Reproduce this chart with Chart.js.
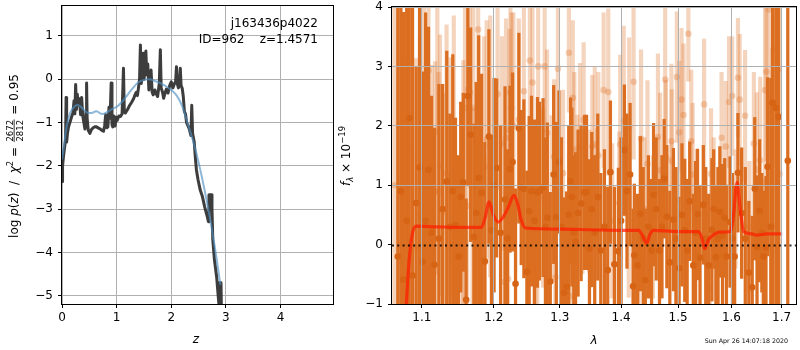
<!DOCTYPE html>
<html>
<head>
<meta charset="utf-8">
<script src="https://cdn.jsdelivr.net/npm/chart.js@4.4.0/dist/chart.umd.min.js"></script>
<style>
    body { margin: 0; background: #fff; width: 800px; height: 350px; overflow: hidden; position: relative; }
    canvas { position: absolute; top: 0; }
    #pz { left: 0; }
    #sp { left: 336px; }
</style>
</head>
<body>
<canvas id="pz" width="340" height="350"></canvas>
<canvas id="sp" width="464" height="350"></canvas>
<script>
// ---- left panel: log p(z) ----
const zTicks = [0, 1, 2, 3, 4];
const pzTicks = [-5, -4, -3, -2, -1, 0, 1];

const zDark = [0.000, 0.010, 0.030, 0.050, 0.065, 0.075, 0.085, 0.100, 0.120, 0.150,
    0.180, 0.200, 0.220, 0.235, 0.250, 0.265, 0.280, 0.300, 0.320, 0.340,
    0.360, 0.380, 0.400, 0.420, 0.440, 0.450, 0.460, 0.480, 0.510, 0.540,
    0.570, 0.600, 0.630, 0.670, 0.700, 0.730, 0.760, 0.780, 0.800, 0.820,
    0.840, 0.860, 0.880, 0.900, 0.915, 0.930, 0.950, 0.970, 0.990, 1.010,
    1.040, 1.070, 1.100, 1.125, 1.140, 1.160, 1.200, 1.240, 1.280, 1.310,
    1.340, 1.360, 1.380, 1.400, 1.420, 1.435, 1.450, 1.470, 1.485, 1.500,
    1.520, 1.535, 1.550, 1.570, 1.590, 1.610, 1.630, 1.650, 1.670, 1.700,
    1.730, 1.750, 1.780, 1.800, 1.815, 1.840, 1.860, 1.890, 1.910, 1.940,
    1.970, 2.000, 2.030, 2.060, 2.080, 2.095, 2.110, 2.130, 2.150, 2.165,
    2.180, 2.200, 2.220, 2.240, 2.260, 2.280, 2.300, 2.330, 2.360, 2.375,
    2.390, 2.420, 2.440, 2.460, 2.490, 2.530, 2.570, 2.610, 2.650, 2.680,
    2.690, 2.730, 2.745, 2.760, 2.790, 2.830, 2.850, 2.870, 2.880, 2.910,
    2.920];
const pzDark = [-2.36, -2.00, -1.75, -1.55, -1.40, -0.42, -1.45, -1.25, -1.10, -0.98,
    -0.85, -0.78, -0.50, -0.80, -0.12, -0.70, -0.35, -0.60, -0.45, -0.82,
    -0.42, -0.85, -1.00, -1.15, -0.75, -0.09, -0.90, -1.18, -1.25, -1.16,
    -1.12, -1.10, -1.10, -1.13, -1.15, -1.18, -1.20, -1.08, -0.82, -1.12,
    -1.10, -0.65, -0.90, -0.09, -1.05, -1.10, -0.85, -1.08, -0.88, -0.95,
    -0.85, -0.86, -0.80, 0.25, -0.75, -0.78, -0.70, -0.60, -0.52, -0.45,
    -0.35, -0.30, -0.38, -0.20, 0.02, 0.79, -0.10, 0.06, 0.60, 0.00,
    0.20, 0.65, 0.10, 0.35, -0.25, 0.00, 0.21, -0.30, -0.36, -0.25,
    -0.35, -0.40, -0.10, 0.68, -0.20, -0.30, -0.44, -0.30, -0.23, -0.32,
    -0.15, -0.06, -0.20, -0.10, -0.05, 0.29, -0.10, -0.20, -0.10, 0.25,
    -0.15, -0.21, -0.40, -0.75, -0.80, -1.00, -1.06, -1.15, -1.30, -0.60,
    -1.25, -1.45, -1.80, -2.09, -2.32, -2.56, -2.71, -2.94, -3.13, -3.29,
    -2.67, -2.67, -3.00, -3.71, -4.17, -4.56, -4.87, -5.17, -4.70, -4.70,
    -5.50];

const zFit = [0.00, 0.03, 0.06, 0.10, 0.15, 0.22, 0.30, 0.38, 0.46, 0.54,
    0.63, 0.72, 0.80, 0.90, 1.00, 1.10, 1.20, 1.30, 1.40, 1.50,
    1.60, 1.70, 1.80, 1.90, 2.00, 2.10, 2.20, 2.30, 2.40, 2.50,
    2.60, 2.70, 2.80, 2.90];
const pzFit = [-1.85, -1.60, -1.30, -1.00, -0.78, -0.64, -0.60, -0.68, -0.77, -0.78,
    -0.74, -0.80, -0.78, -0.70, -0.64, -0.52, -0.36, -0.20, -0.07, -0.02,
    0.00, -0.04, -0.09, -0.16, -0.25, -0.38, -0.62, -1.02, -1.43, -1.92,
    -2.50, -3.15, -3.90, -4.75];

// ---- right panel: spectrum ----
const lamTicks = [1.1, 1.2, 1.3, 1.4, 1.5, 1.6, 1.7];
const fluxTicks = [-1, 0, 1, 2, 3, 4];

const darkWave = [1.0685, 1.0725, 1.0757, 1.0800, 1.0834, 1.0877, 1.0925, 1.0970, 1.1013, 1.1050,
    1.1089, 1.1130, 1.1169, 1.1230, 1.1280, 1.1337, 1.1380, 1.1420, 1.1457, 1.1500,
    1.1530, 1.1566, 1.1606, 1.1630, 1.1670, 1.1715, 1.1748, 1.1784, 1.1825, 1.1871,
    1.1930, 1.1967, 1.2005, 1.2042, 1.2100, 1.2165, 1.2200, 1.2239, 1.2277, 1.2321,
    1.2371, 1.2406, 1.2446, 1.2491, 1.2526, 1.2561, 1.2605, 1.2652, 1.2682, 1.2738,
    1.2775, 1.2804, 1.2850, 1.2903, 1.2944, 1.2986, 1.3025, 1.3064, 1.3107, 1.3140,
    1.3170, 1.3190, 1.3220, 1.3249, 1.3290, 1.3339, 1.3393, 1.3426, 1.3474, 1.3512,
    1.3560, 1.3610, 1.3660, 1.3720, 1.3775, 1.3820, 1.3887, 1.3954, 1.4000, 1.4056,
    1.4100, 1.4153, 1.4204, 1.4226, 1.4283, 1.4330, 1.4380, 1.4416, 1.4470, 1.4526,
    1.4561, 1.4608, 1.4666, 1.4710, 1.4749, 1.4797, 1.4850, 1.4915, 1.4960, 1.5018,
    1.5070, 1.5121, 1.5165, 1.5212, 1.5278, 1.5320, 1.5355, 1.5403, 1.5464, 1.5510,
    1.5565, 1.5626, 1.5660, 1.5701, 1.5740, 1.5777, 1.5828, 1.5870, 1.5904, 1.5972,
    1.6020, 1.6062, 1.6126, 1.6198, 1.6270, 1.6340, 1.6407, 1.6458, 1.6503, 1.6555,
    1.6600, 1.6635, 1.6683, 1.6715, 1.6780, 1.6816, 1.6884, 1.6937, 1.7129];
const darkFlux = [-0.20, 0.90, -0.59, 0.40, 2.13, -0.52, 0.70, 1.30, -0.29, 0.40,
    1.26, 0.20, -0.34, 0.10, 0.60, 1.06, 0.30, 0.90, 0.33, -0.20,
    0.80, 1.05, -0.93, 2.50, 1.85, 0.13, 0.53, 1.12, 0.87, -0.28,
    1.82, 0.24, 1.00, 1.29, 0.20, 0.76, 0.10, 1.27, 1.39, -0.66,
    1.96, 0.96, 0.94, -0.46, 0.56, 0.90, 0.40, 0.88, 0.90, 0.96,
    0.30, 0.45, -0.62, 1.18, 0.46, 1.39, 0.30, -0.81, -0.71, 0.50,
    1.07, 0.80, 0.20, 0.05, 0.53, 0.69, 0.88, 0.88, -0.07, 0.59,
    0.20, 0.80, -0.10, 0.30, -0.43, 1.22, -0.33, -0.11, 0.40, 1.59,
    0.90, 1.18, -0.70, -0.18, -0.35, 0.52, 0.10, -0.60, 0.30, -0.10,
    0.84, 0.60, -0.10, 0.30, 1.11, 0.47, -0.30, 0.42, 0.10, -0.40,
    0.50, 0.24, -0.10, 0.73, -0.35, 0.20, 0.51, -0.22, 0.67, 0.10,
    -0.35, 0.25, 0.60, -0.21, 0.10, 0.55, 0.15, 0.45, -0.20, 0.38,
    0.10, -0.20, 1.21, 0.53, 0.10, -0.47, -0.72, 0.94, -0.04, 0.57,
    0.20, -0.20, -0.05, 1.31, 0.30, 2.39, 2.30, 2.15, 1.41];
const darkErr = [5.0, 4.5, 4.5, 4.2, 4.0, 4.5, 2.3, 2.7, 3.2, 3.5,
    2.4, 2.3, 2.3, 2.6, 2.1, 2.2, 1.9, 2.3, 1.8, 1.7,
    1.6, 1.5, 1.7, 1.5, 1.8, 1.9, 2.2, 2.4, 2.0, 2.0,
    1.8, 1.6, 1.8, 1.5, 1.8, 1.9, 1.5, 1.4, 1.5, 1.6,
    1.6, 1.3, 1.5, 1.7, 1.6, 1.6, 1.7, 1.6, 1.5, 1.5,
    1.5, 1.6, 1.5, 1.5, 1.6, 1.2, 1.5, 1.6, 1.6, 1.5,
    1.4, 1.5, 1.3, 1.5, 1.4, 1.3, 1.3, 1.3, 1.5, 1.3,
    1.3, 1.4, 1.3, 1.3, 1.4, 1.2, 1.3, 1.4, 1.4, 1.1,
    1.3, 1.2, 1.3, 1.2, 1.2, 1.3, 1.2, 1.2, 1.2, 1.2,
    1.2, 1.2, 1.2, 1.2, 1.0, 1.2, 1.2, 1.2, 1.2, 1.2,
    1.2, 1.2, 1.2, 1.0, 1.2, 1.2, 1.1, 1.2, 1.0, 1.2,
    1.2, 1.2, 1.0, 1.2, 1.2, 1.1, 1.2, 1.0, 1.2, 1.1,
    1.1, 1.2, 1.0, 1.1, 1.2, 1.2, 1.2, 1.2, 1.2, 1.2,
    1.0, 1.1, 1.2, 1.5, 2.5, 3.5, 4.0, 4.5, 5.0];

const lightWave = [1.0640, 1.0700, 1.0766, 1.0848, 1.0920, 1.0975, 1.1029, 1.1044, 1.1060, 1.1080,
    1.1089, 1.1132, 1.1178, 1.1208, 1.1225, 1.1244, 1.1295, 1.1334, 1.1389, 1.1434,
    1.1490, 1.1558, 1.1567, 1.1590, 1.1620, 1.1658, 1.1696, 1.1707, 1.1776, 1.1860,
    1.1870, 1.1898, 1.1950, 1.2056, 1.2120, 1.2160, 1.2180, 1.2210, 1.2230, 1.2245,
    1.2260, 1.2290, 1.2370, 1.2446, 1.2536, 1.2576, 1.2620, 1.2650, 1.2663, 1.2740,
    1.2763, 1.2800, 1.2870, 1.2910, 1.2930, 1.2970, 1.3050, 1.3143, 1.3160, 1.3206,
    1.3230, 1.3280, 1.3320, 1.3360, 1.3380, 1.3470, 1.3520, 1.3560, 1.3600, 1.3620,
    1.3707, 1.3784, 1.3850, 1.3970, 1.3984, 1.4045, 1.4130, 1.4137, 1.4213, 1.4300,
    1.4342, 1.4400, 1.4454, 1.4550, 1.4638, 1.4677, 1.4767, 1.4780, 1.4878, 1.4885,
    1.4977, 1.5020, 1.5062, 1.5099, 1.5187, 1.5240, 1.5266, 1.5350, 1.5479, 1.5590,
    1.5610, 1.5660, 1.5740, 1.5810, 1.5890, 1.5954, 1.6014, 1.6080, 1.6126, 1.6161,
    1.6266, 1.6350, 1.6440, 1.6500, 1.6566, 1.6620, 1.6665, 1.6690, 1.6739, 1.6810,
    1.6868, 1.6925, 1.6960];
const lightFlux = [1.00, 2.00, -0.35, 1.60, -0.07, 0.50, 2.16, -0.70, 0.85, 0.70,
    2.93, 0.62, 0.88, 1.90, 0.90, 1.33, 0.55, 1.20, 1.15, 1.45,
    -0.30, 0.13, 0.70, 2.30, 0.65, 2.56, 0.30, 2.30, 3.62, 1.30,
    -0.30, 1.77, 1.65, 2.53, 1.70, -0.63, 1.80, -0.58, 1.93, 2.56,
    2.30, 2.00, 2.10, 2.58, 3.10, 2.73, -0.20, -0.47, 3.00, 0.78,
    3.00, 1.88, 0.77, 1.48, -0.55, 2.96, 1.20, 3.23, -0.87, 2.47,
    1.60, 0.88, 1.65, 0.71, 2.10, 0.73, 1.65, 1.69, 0.75, 1.50,
    2.60, 2.57, 0.40, 0.70, 1.69, 2.08, 0.41, 1.98, 2.74, -0.68,
    1.78, 0.60, 1.36, 0.30, 1.81, 1.25, 2.78, 1.47, 1.74, 1.41,
    2.82, 1.89, 2.44, 2.18, 3.55, 1.74, 1.18, 0.50, 2.36, -0.73,
    1.19, 0.80, -0.10, 1.80, 1.65, 2.40, 2.50, 0.60, 2.81, 2.44,
    2.17, 0.30, 1.70, 1.26, 1.42, -0.20, 2.60, 2.91, 3.96, 0.31,
    3.30, 2.94, 1.19];
const lightErr = [4.5, 4.0, 3.5, 3.0, 3.2, 3.0, 2.2, 2.4, 2.6, 2.5,
    1.8, 2.4, 2.2, 2.4, 2.0, 2.2, 2.0, 2.5, 2.0, 2.4,
    1.8, 1.8, 2.4, 1.8, 2.0, 1.6, 2.0, 1.7, 1.5, 2.2,
    1.8, 2.0, 2.2, 1.6, 1.8, 1.6, 2.0, 1.8, 1.7, 1.5,
    1.6, 1.9, 1.7, 1.5, 1.2, 1.3, 1.4, 1.5, 1.2, 1.5,
    1.1, 1.4, 1.4, 1.3, 1.3, 1.1, 1.4, 1.0, 1.2, 1.3,
    1.3, 1.3, 1.4, 1.2, 1.3, 1.2, 1.2, 1.3, 1.2, 1.4,
    1.3, 1.4, 1.3, 1.2, 1.5, 1.6, 1.3, 1.5, 1.3, 1.2,
    1.5, 1.2, 1.4, 1.2, 1.4, 1.3, 1.2, 1.3, 1.3, 1.2,
    1.1, 1.2, 1.2, 1.2, 0.8, 1.2, 1.2, 1.1, 1.1, 1.0,
    1.1, 1.0, 1.0, 1.1, 1.1, 1.1, 1.0, 1.0, 1.0, 1.1,
    1.1, 1.1, 1.2, 1.3, 1.4, 1.3, 1.6, 1.5, 2.5, 3.0,
    2.0, 2.5, 3.5];

const modelWave = [1.0791, 1.0830, 1.0870, 1.0921, 1.1200, 1.1500, 1.1822, 1.1875, 1.1932, 1.1995,
    1.2065, 1.2130, 1.2210, 1.2298, 1.2350, 1.2410, 1.2472, 1.3000, 1.3500, 1.4000,
    1.4296, 1.4370, 1.4439, 1.4500, 1.4556, 1.5000, 1.5380, 1.5440, 1.5489, 1.5560,
    1.5650, 1.5774, 1.5979, 1.6040, 1.6110, 1.6170, 1.6240, 1.6400, 1.6500, 1.6700,
    1.7013];
const modelFlux = [-1.10, -0.30, 0.15, 0.31, 0.30, 0.29, 0.29, 0.45, 0.72, 0.50,
    0.38, 0.45, 0.62, 0.83, 0.70, 0.40, 0.28, 0.26, 0.25, 0.24,
    0.24, 0.15, 0.02, 0.18, 0.24, 0.22, 0.22, 0.10, -0.07, 0.08,
    0.16, 0.21, 0.22, 0.50, 1.05, 0.60, 0.22, 0.18, 0.16, 0.18,
    0.18];

const lamMin = 1.061, lamMax = 1.730;

Chart.defaults.font.family = '"DejaVu Sans"';
Chart.defaults.font.size = 12;
Chart.defaults.color = '#000';

const FN = '12px "DejaVu Sans"';
const FI = 'italic 12px "DejaVu Sans"';
const FS = '8.5px "DejaVu Sans"';
const FSI = 'italic 8.5px "DejaVu Sans"';

const minus = v => String(v).replace('-', '\u2212');

function fixedScale(size, horizontal) {
    return scale => {
        if (horizontal) scale.height = size; else scale.width = size;
        scale.paddingLeft = 0; scale.paddingRight = 0;
        scale.paddingTop = 0; scale.paddingBottom = 0;
    };
}

function axisStyle(extra) {
    return Object.assign({
        grid: { color: '#b0b0b0', lineWidth: 1, tickColor: '#000', tickLength: 4 },
        border: { display: false },
        ticks: { color: '#000', font: { size: 12 } }
    }, extra);
}

// draws text pieces one after another, centred on x
function drawParts(ctx, parts, x, y) {
    let w = 0;
    parts.forEach(p => { ctx.font = p[1]; w += p[3] || ctx.measureText(p[0]).width; });
    let cx = x - w / 2;
    parts.forEach(p => {
        ctx.font = p[1];
        if (p[0] === 'FRAC') {
            const nw = p[3];
            ctx.font = FS;
            const a = ctx.measureText('2672').width, b = ctx.measureText('2812').width;
            ctx.fillText('2672', cx + (nw - a) / 2, y - 5.5);
            ctx.fillText('2812', cx + (nw - b) / 2, y + 5);
            ctx.fillRect(cx + 1, y - 4.3, nw - 2, 0.8);
        } else {
            ctx.fillText(p[0], cx, y + (p[2] || 0));
        }
        cx += p[3] || ctx.measureText(p[0]).width;
    });
}

const framePlugin = {
    id: 'frame',
    afterDraw(chart) {
        const a = chart.chartArea, ctx = chart.ctx;
        ctx.save();
        ctx.strokeStyle = '#000';
        ctx.lineWidth = 1;
        ctx.strokeRect(Math.round(a.left) - 0.5, Math.round(a.top) - 0.5,
            Math.round(a.right - a.left) + 1, Math.round(a.bottom - a.top) + 1);
        ctx.restore();
    }
};

const pzText = {
    id: 'pzText',
    afterDraw(chart) {
        const ctx = chart.ctx;
        ctx.save();
        ctx.fillStyle = '#000';
        ctx.textBaseline = 'alphabetic';
        ctx.font = FN;
        ctx.textAlign = 'right';
        ctx.fillText('j163436p4022', 318, 27);
        ctx.fillText('ID=962    z=1.4571', 318, 43);
        ctx.textAlign = 'left';
        ctx.font = FI;
        ctx.fillText('z', 196 - ctx.measureText('z').width / 2, 343);
        ctx.translate(18, 156);
        ctx.rotate(-Math.PI / 2);
        ctx.font = FS;
        const fw = ctx.measureText('2812').width + 3;
        drawParts(ctx, [
            ['log ', FN], ['p', FI], ['(', FN], ['z', FI], [')  /  ', FN],
            ['\u03c7', FI], ['2', FS, -5], [' = ', FN], ['FRAC', FS, 0, fw], [' = 0.95', FN]
        ], 0, 0);
        ctx.restore();
    }
};

// zero line is drawn after the grid so the grid does not cover it
const zeroLine = {
    id: 'zeroLine',
    afterDraw(chart) {
        const ctx = chart.ctx, xs = chart.scales.x, ys = chart.scales.y;
        const y0 = Math.round(ys.getPixelForValue(0)) + 0.5;
        ctx.save();
        ctx.strokeStyle = 'rgba(0,0,0,0.85)';
        ctx.lineWidth = 2;
        ctx.setLineDash([2, 3.3]);
        ctx.beginPath();
        ctx.moveTo(xs.getPixelForValue(lamMin), y0);
        ctx.lineTo(xs.getPixelForValue(lamMax), y0);
        ctx.stroke();
        ctx.restore();
    }
};

const spText = {
    id: 'spText',
    afterDraw(chart) {
        const ctx = chart.ctx;
        ctx.save();
        ctx.fillStyle = '#000';
        ctx.textAlign = 'left';
        ctx.font = FI;
        ctx.fillText('\u03bb', 258 - ctx.measureText('\u03bb').width / 2, 344);
        ctx.font = '6.3px "DejaVu Sans"';
        ctx.textAlign = 'right';
        ctx.fillText('Sun Apr 26 14:07:18 2020', 452, 343);
        ctx.textAlign = 'left';
        ctx.translate(14, 156);
        ctx.rotate(-Math.PI / 2);
        drawParts(ctx, [
            ['f', FI], ['\u03bb', FSI, 3], [' \u00d7 10', FN], ['\u221219', FS, -5]
        ], 0, 0);
        ctx.restore();
    }
};

new Chart(document.getElementById('pz'), {
    type: 'scatter',
    data: {
        datasets: [
            {
                data: zDark.map((z, i) => ({ x: z, y: pzDark[i] })),
                showLine: true, borderColor: 'rgba(45,45,45,0.92)', borderWidth: 3,
                borderJoinStyle: 'round', pointRadius: 0, order: 2, clip: 0
            },
            {
                data: zFit.map((z, i) => ({ x: z, y: pzFit[i] })),
                showLine: true, borderColor: 'rgba(80,145,195,0.65)', borderWidth: 2,
                tension: 0.4, pointRadius: 0, order: 1, clip: 0
            }
        ]
    },
    options: {
        responsive: false,
        animation: false,
        devicePixelRatio: 1,
        layout: { padding: { left: 0, right: 7, top: 6, bottom: 0 } },
        plugins: { legend: { display: false }, tooltip: { enabled: false } },
        scales: {
            x: axisStyle({
                type: 'linear', min: 0, max: 4.96,
                afterBuildTicks: s => { s.ticks = zTicks.map(v => ({ value: v })); },
                afterFit: fixedScale(46, true),
                ticks: { color: '#000', padding: 3, maxRotation: 0, callback: v => minus(v) }
            }),
            y: axisStyle({
                type: 'linear', min: -5.19, max: 1.69,
                afterBuildTicks: s => { s.ticks = pzTicks.map(v => ({ value: v })); },
                afterFit: fixedScale(62, false),
                ticks: { color: '#000', padding: 5, callback: v => minus(v) }
            })
        }
    },
    plugins: [framePlugin, pzText]
});

const darkBars = darkWave.map((w, i) => ({ x: w, y: [darkFlux[i] - darkErr[i], darkFlux[i] + darkErr[i]] }));
const lightBars = lightWave.map((w, i) => ({ x: w, y: [lightFlux[i] - lightErr[i], lightFlux[i] + lightErr[i]] }));

new Chart(document.getElementById('sp'), {
    type: 'bar',
    data: {
        datasets: [
            {
                type: 'bar', data: lightBars, backgroundColor: 'rgba(222,112,36,0.3)',
                barThickness: 3.5, grouped: false, order: 6, clip: 0
            },
            {
                type: 'scatter', data: lightWave.map((w, i) => ({ x: w, y: lightFlux[i] })),
                backgroundColor: 'rgba(222,112,36,0.3)', borderWidth: 0, pointRadius: 3.3, order: 5, clip: 0
            },
            {
                type: 'bar', data: darkBars, backgroundColor: 'rgb(219,110,32)',
                barThickness: 2.6, grouped: false, order: 4, clip: 0
            },
            {
                type: 'scatter', data: darkWave.map((w, i) => ({ x: w, y: darkFlux[i] })),
                backgroundColor: 'rgb(214,100,20)', borderWidth: 0, pointRadius: 3.3, order: 3, clip: 0
            },
            {
                type: 'line', data: modelWave.map((w, i) => ({ x: w, y: modelFlux[i] })),
                borderColor: 'rgba(255,25,0,0.7)', borderWidth: 3.2, pointRadius: 0,
                cubicInterpolationMode: 'monotone', order: 2, clip: 0
            }
        ]
    },
    options: {
        responsive: false,
        animation: false,
        devicePixelRatio: 1,
        layout: { padding: { left: 0, right: 1, top: 7, bottom: 0 } },
        plugins: { legend: { display: false }, tooltip: { enabled: false } },
        scales: {
            x: axisStyle({
                type: 'logarithmic', min: lamMin, max: lamMax, offset: false,
                grid: { color: '#b0b0b0', lineWidth: 1, tickColor: '#000', tickLength: 4, offset: false, z: 1 },
                afterBuildTicks: s => { s.ticks = lamTicks.map(v => ({ value: v })); },
                afterFit: fixedScale(46, true),
                ticks: { color: '#000', padding: 3, maxRotation: 0, autoSkip: false, callback: v => Number(v).toFixed(1) }
            }),
            y: axisStyle({
                type: 'linear', min: -1, max: 4,
                grid: {
                    color: c => (c.tick && c.tick.value === 0 ? 'rgba(0,0,0,0)' : '#b0b0b0'),
                    lineWidth: 1, tickColor: '#000', tickLength: 4, z: 1
                },
                afterBuildTicks: s => { s.ticks = fluxTicks.map(v => ({ value: v })); },
                afterFit: fixedScale(56, false),
                ticks: { color: '#000', padding: 5, callback: v => minus(v) }
            })
        }
    },
    plugins: [framePlugin, zeroLine, spText]
});
</script>
</body>
</html>
